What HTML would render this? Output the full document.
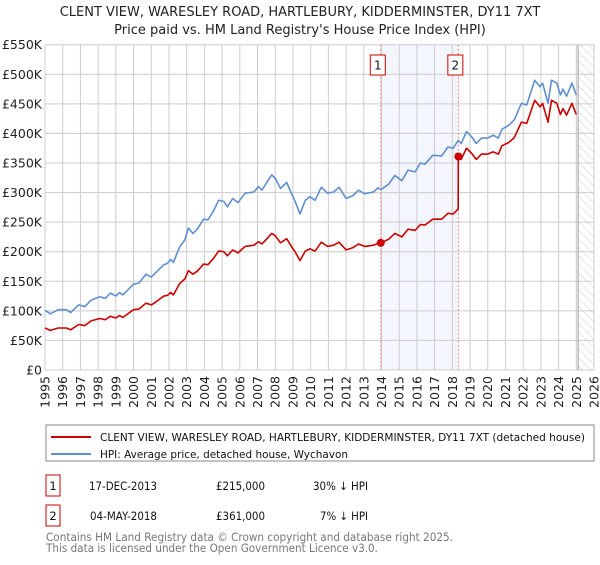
<!DOCTYPE html>
<html><head><meta charset="utf-8">
<style>
body{margin:0;background:#fff;font-family:"Liberation Sans","DejaVu Sans",sans-serif;}
svg text{font-family:"DejaVu Sans","Liberation Sans",sans-serif;}
</style></head>
<body>
<svg id="chart" width="600" height="560" viewBox="0 0 600 560" xmlns="http://www.w3.org/2000/svg">
<defs>
<pattern id="hatch" width="6" height="6" patternUnits="userSpaceOnUse" patternTransform="rotate(-45)">
<line x1="0" y1="0" x2="0" y2="6" stroke="#ccc" stroke-width="1"/>
</pattern>
</defs>
<text x="300" y="16" text-anchor="middle" font-size="13" fill="#222">CLENT VIEW, WARESLEY ROAD, HARTLEBURY, KIDDERMINSTER, DY11 7XT</text>
<text x="300" y="34" text-anchor="middle" font-size="13" fill="#222">Price paid vs. HM Land Registry's House Price Index (HPI)</text>
<g id="plot"></g>
<rect x="46" y="425" width="548" height="36" fill="#fff" stroke="#888" stroke-width="1"/>
<line x1="51" y1="437" x2="91" y2="437" stroke="#cc0000" stroke-width="2"/>
<text x="100" y="441" font-size="11" textLength="485" lengthAdjust="spacingAndGlyphs" fill="#111">CLENT VIEW, WARESLEY ROAD, HARTLEBURY, KIDDERMINSTER, DY11 7XT (detached house)</text>
<line x1="51" y1="454" x2="91" y2="454" stroke="#5f8fd0" stroke-width="2"/>
<text x="100" y="458" font-size="11" textLength="248" lengthAdjust="spacingAndGlyphs" fill="#111">HPI: Average price, detached house, Wychavon</text>
<g>
<rect x="46" y="475" width="14" height="21" fill="#fff" stroke="#cc0000"/>
<text x="53" y="490" text-anchor="middle" font-size="11.5" fill="#111">1</text>
<text x="157" y="490" text-anchor="end" font-size="11.5" textLength="68" lengthAdjust="spacingAndGlyphs" fill="#111">17-DEC-2013</text>
<text x="265" y="490" text-anchor="end" font-size="11.5" textLength="49" lengthAdjust="spacingAndGlyphs" fill="#111">£215,000</text>
<text x="368" y="490" text-anchor="end" font-size="11.5" textLength="55" lengthAdjust="spacingAndGlyphs" fill="#111">30% ↓ HPI</text>
</g>
<g>
<rect x="46" y="505" width="14" height="21" fill="#fff" stroke="#cc0000"/>
<text x="53" y="520" text-anchor="middle" font-size="11.5" fill="#111">2</text>
<text x="157" y="520" text-anchor="end" font-size="11.5" textLength="67" lengthAdjust="spacingAndGlyphs" fill="#111">04-MAY-2018</text>
<text x="265" y="520" text-anchor="end" font-size="11.5" textLength="49" lengthAdjust="spacingAndGlyphs" fill="#111">£361,000</text>
<text x="368" y="520" text-anchor="end" font-size="11.5" textLength="48" lengthAdjust="spacingAndGlyphs" fill="#111">7% ↓ HPI</text>
</g>
<text x="46" y="541" font-size="11.3" textLength="407" lengthAdjust="spacingAndGlyphs" fill="#777">Contains HM Land Registry data © Crown copyright and database right 2025.</text>
<text x="46" y="552" font-size="11.3" textLength="332" lengthAdjust="spacingAndGlyphs" fill="#777">This data is licensed under the Open Government Licence v3.0.</text>
</svg>
<script>
const dates=[1995.0,1995.3,1995.75,1996.2,1996.45,1996.9,1997.25,1997.6,1998.1,1998.4,1998.7,1999.0,1999.2,1999.4,2000.0,2000.3,2000.7,2001.0,2001.3,2001.7,2001.9,2002.1,2002.25,2002.6,2002.9,2003.1,2003.35,2003.6,2003.95,2004.2,2004.5,2004.8,2005.1,2005.3,2005.6,2005.9,2006.3,2006.8,2007.05,2007.25,2007.5,2007.8,2008.0,2008.3,2008.65,2008.95,2009.1,2009.4,2009.7,2009.95,2010.25,2010.6,2010.95,2011.3,2011.6,2012.0,2012.4,2012.7,2013.05,2013.55,2013.8,2013.96,2014.4,2014.75,2015.15,2015.5,2015.9,2016.2,2016.45,2016.9,2017.4,2017.75,2018.05,2018.33,2018.34,2018.5,2018.8,2019.1,2019.35,2019.65,2020.0,2020.3,2020.6,2020.8,2021.2,2021.5,2021.9,2022.2,2022.65,2022.95,2023.1,2023.4,2023.6,2023.9,2024.1,2024.25,2024.45,2024.75,2025.0];
const hpiValues=[101,95,102,102,97,110,107,118,124,121,130,125,131,127,145,147,162,157,166,178,180,187,182,208,220,240,231,238,255,254,268,287,285,276,290,283,299,301,310,304,316,330,324,307,317,296,287,264,287,293,287,309,299,301,309,290,295,304,298,301,308,305,314,329,320,338,335,350,348,363,362,377,375,388,388,383,403,394,383,392,392,397,392,407,414,423,451,448,490,479,485,451,490,485,465,475,463,485,465];
const priceValues=[71,67,71,71,68,77,75,83,87,85,91,88,92,89,102,103,113,110,116,125,126,131,127,146,154,168,162,167,179,178,188,201,200,193,203,198,209,211,217,213,221,231,227,215,222,207,201,185,201,205,201,216,209,211,216,203,207,213,209,211,214,215,221,231,225,238,236,246,245,255,255,265,264,272,361,356,375,366,356,365,365,369,365,379,385,393,419,417,456,445,451,419,456,451,432,442,431,451,432];
const yTicks=[0,50,100,150,200,250,300,350,400,450,500,550];
const yTickLabels=["£0","£50K","£100K","£150K","£200K","£250K","£300K","£350K","£400K","£450K","£500K","£550K"];
const xYears=[1995,1996,1997,1998,1999,2000,2001,2002,2003,2004,2005,2006,2007,2008,2009,2010,2011,2012,2013,2014,2015,2016,2017,2018,2019,2020,2021,2022,2023,2024,2025,2026];
const saleDates=[2013.96,2018.34];
const salePrices=[215,361];
const saleLabels=["1","2"];
const dataEnd=2025.1;

const NS="http://www.w3.org/2000/svg";
const L=45,R=594,T=44.7,B=370;
const xs=y=>L+(y-1995)/(2026-1995)*(R-L);
const ys=v=>B-v/550*(B-T);
const g=document.getElementById('plot');
function mk(tag,attrs,parent){const e=document.createElementNS(NS,tag);for(const k in attrs)e.setAttribute(k,attrs[k]);(parent||g).appendChild(e);return e;}

const shade=mk('rect',{x:xs(saleDates[0]),y:T,width:xs(saleDates[1])-xs(saleDates[0]),height:B-T,fill:'#f3f6fd'});


const hat=mk('rect',{x:xs(dataEnd),y:T,width:R-xs(dataEnd),height:B-T,fill:'url(#hatch)'});



yTicks.forEach((v,i)=>{
  const ln=mk('line',{x1:L,x2:R,y1:ys(v),y2:ys(v),stroke:'#cccccc','stroke-width':1});
  
  
  const t=mk('text',{x:L-3,y:ys(v)+4.5,'text-anchor':'end','font-size':12.5,fill:'#222'});
  t.textContent=yTickLabels[i];
  
  
});
xYears.forEach(yr=>{
  const ln=mk('line',{x1:xs(yr),x2:xs(yr),y1:T,y2:B,stroke:'#cccccc','stroke-width':1});
  
  
  const t=mk('text',{x:0,y:0,'text-anchor':'end','font-size':12.5,fill:'#222',transform:`translate(${xs(yr)+4.5},${B+6}) rotate(-90)`});
  t.textContent=yr;
  
  
});
const endLine=mk('line',{x1:xs(dataEnd),x2:xs(dataEnd),y1:T,y2:B,stroke:'#999','stroke-width':1});



saleDates.forEach((d,i)=>{
  const ln=mk('line',{x1:xs(d),x2:xs(d),y1:T,y2:B,stroke:'#f08080','stroke-width':1,'stroke-dasharray':'2,2'});
  
  
});

function path(vals,color,name){
  let dstr='';
  dates.forEach((d,i)=>{dstr+=(i?'L':'M')+xs(d).toFixed(1)+','+ys(vals[i]).toFixed(1);});
  const p=mk('path',{d:dstr,fill:'none',stroke:color,'stroke-width':1.6,'stroke-linejoin':'round'});
  
  
}
path(hpiValues,'#5f8fd0','hpi-line');
path(priceValues,'#cc0000','price-line');

saleDates.forEach((d,i)=>{
  const c=mk('circle',{cx:xs(d),cy:ys(salePrices[i]),r:4,fill:'#cc0000'});
  
  
  const bx=mk('rect',{x:xs(d)-10.5,y:55,width:15,height:20,fill:'#fff',stroke:'#cc0000','stroke-width':1});
  
  
  const t=mk('text',{x:xs(d)-3,y:69.5,'text-anchor':'middle','font-size':12,fill:'#111'});
  t.textContent=saleLabels[i];
  
  
});
</script>
</body></html>
